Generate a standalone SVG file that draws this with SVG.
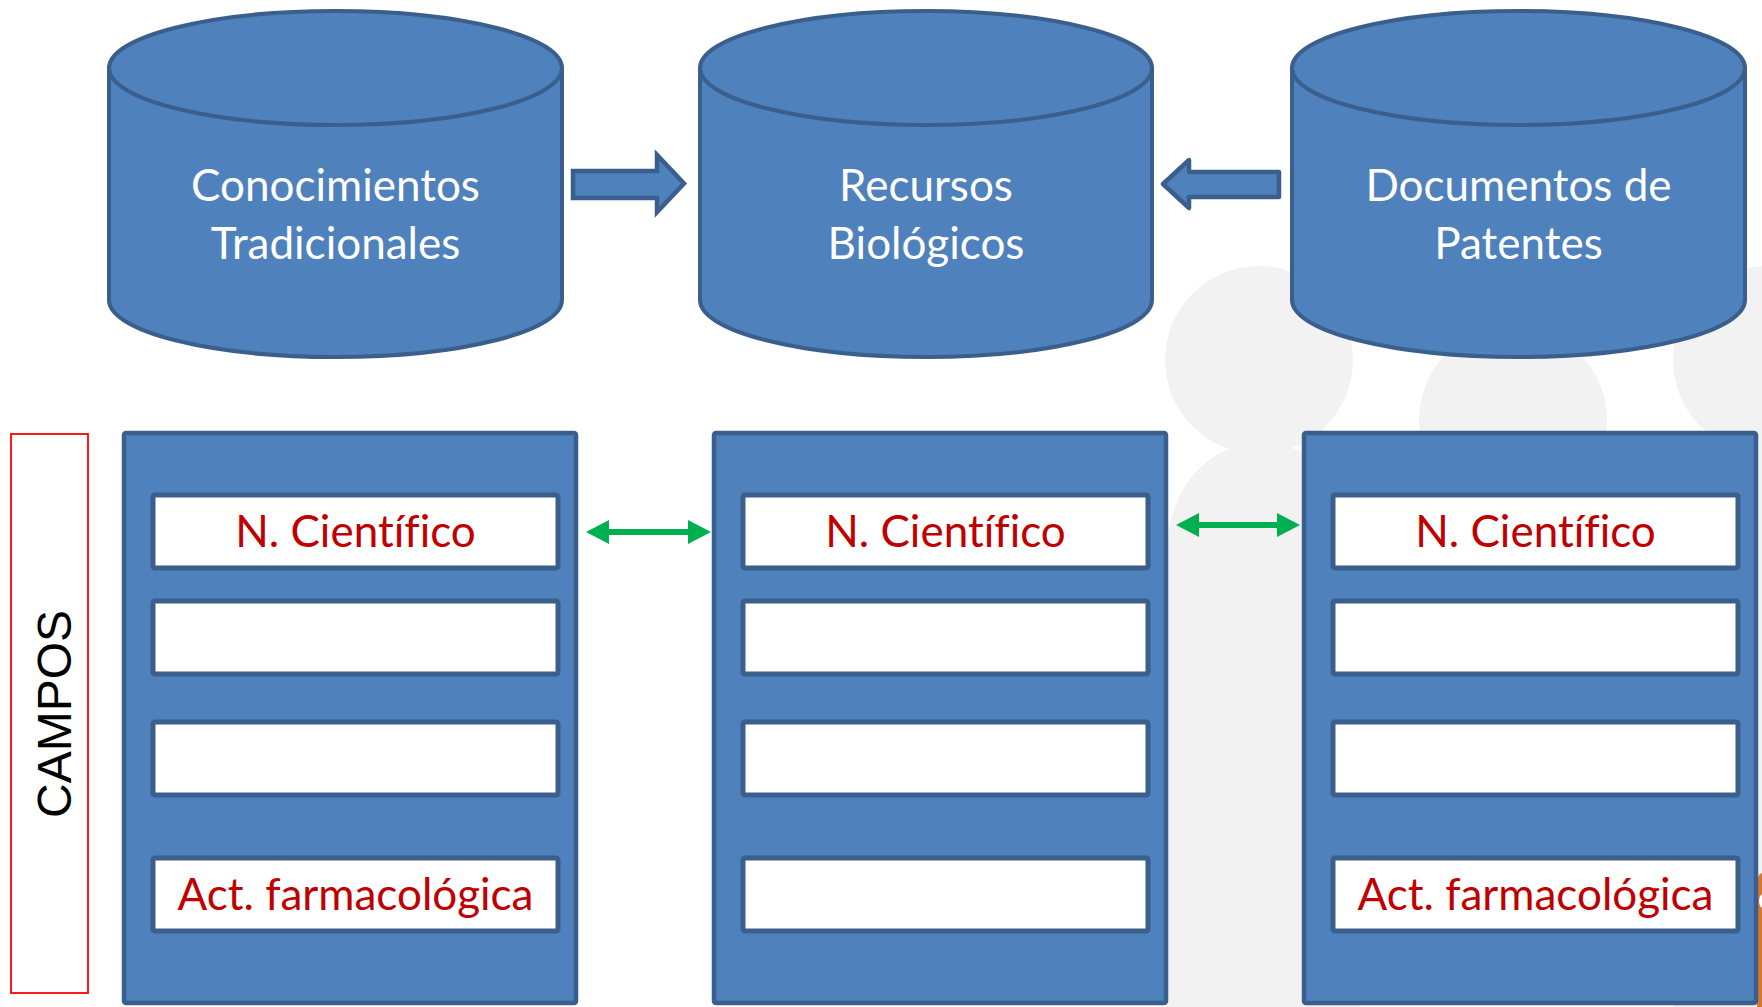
<svg xmlns="http://www.w3.org/2000/svg" width="1762" height="1007" viewBox="0 0 1762 1007">
<style>
.bg{fill:#F2F2F2}
.cyl{fill:#4F81BD;stroke:#3A5F8C;stroke-width:4}
.tbl{fill:#4F81BD;stroke:#3A5F8C;stroke-width:4.5}
.fld{fill:#FFFFFF;stroke:#3A5F8C;stroke-width:5}
.blk{fill:#4F81BD;stroke:#3A5F8C;stroke-width:4.5}
.grn{fill:#00B050}
.wt{font-family:Lato,"Open Sans",sans-serif;font-size:44px;fill:#FFFFFF;text-anchor:middle;font-variant-ligatures:none}
.rt{font-family:Lato,"Open Sans",sans-serif;font-size:44px;fill:#C00000;text-anchor:middle;font-variant-ligatures:none}
</style>
<rect width="1762" height="1007" fill="#FFFFFF"/>
<g id="background">
<circle class="bg" cx="1259" cy="360" r="94"/>
<path class="bg" d="M1166,1007 L1166,560 C1166,490 1205,445 1262,442 C1320,445 1360,490 1360,560 L1360,1007 Z"/>
<circle class="bg" cx="1513" cy="420" r="94"/>
<circle class="bg" cx="1767" cy="360" r="94"/>
<rect class="bg" x="1673" y="440" width="100" height="567"/>
<path d="M1757,1007 L1757,884 Q1757,872 1766,872 L1766,1007 Z" fill="#D9762F"/>
<ellipse cx="1763" cy="901" rx="4" ry="7" fill="#FFFFFF"/>
</g>
<g id="cyl-conocimientos">
<path class="cyl" d="M109,68 L109,300 A226.5,57 0 0 0 562,300 L562,68 Z"/>
<ellipse class="cyl" cx="335.5" cy="68" rx="226.5" ry="57"/>
<text class="wt" x="335.5" y="201">Conocimientos</text>
<text class="wt" x="335.5" y="259">Tradicionales</text>
</g>
<g id="cyl-recursos">
<path class="cyl" d="M700,68 L700,300 A226,57 0 0 0 1152,300 L1152,68 Z"/>
<ellipse class="cyl" cx="926" cy="68" rx="226" ry="57"/>
<text class="wt" x="926" y="201">Recursos</text>
<text class="wt" x="926" y="259">Biológicos</text>
</g>
<g id="cyl-documentos">
<path class="cyl" d="M1292,68 L1292,300 A226.5,57 0 0 0 1745,300 L1745,68 Z"/>
<ellipse class="cyl" cx="1518.5" cy="68" rx="226.5" ry="57"/>
<text class="wt" x="1518.5" y="201">Documentos de</text>
<text class="wt" x="1518.5" y="259">Patentes</text>
</g>
<g id="campos">
<rect x="11" y="434" width="77" height="559" fill="#FFFFFF" stroke="#FF0000" stroke-width="1.8"/>
<text x="0" y="0" transform="translate(71,714) rotate(-90)" font-family="'Liberation Sans',Arial,sans-serif" font-size="48" fill="#000000" text-anchor="middle">CAMPOS</text>
</g>
<g id="tabla-conocimientos">
<rect class="tbl" x="124" y="433" width="452" height="570" rx="2"/>
<rect class="fld" x="153" y="495" width="405" height="73" rx="2"/>
<rect class="fld" x="153" y="601" width="405" height="73" rx="2"/>
<rect class="fld" x="153" y="722" width="405" height="73" rx="2"/>
<rect class="fld" x="153" y="858" width="405" height="73" rx="2"/>
<text class="rt" x="355.5" y="547">N. Científico</text>
<text class="rt" x="355.5" y="910">Act. farmacológica</text>
</g>
<g id="tabla-recursos">
<rect class="tbl" x="714" y="433" width="452" height="570" rx="2"/>
<rect class="fld" x="743" y="495" width="405" height="73" rx="2"/>
<rect class="fld" x="743" y="601" width="405" height="73" rx="2"/>
<rect class="fld" x="743" y="722" width="405" height="73" rx="2"/>
<rect class="fld" x="743" y="858" width="405" height="73" rx="2"/>
<text class="rt" x="945.5" y="547">N. Científico</text>
</g>
<g id="tabla-documentos">
<rect class="tbl" x="1304" y="433" width="452" height="570" rx="2"/>
<rect class="fld" x="1333" y="495" width="405" height="73" rx="2"/>
<rect class="fld" x="1333" y="601" width="405" height="73" rx="2"/>
<rect class="fld" x="1333" y="722" width="405" height="73" rx="2"/>
<rect class="fld" x="1333" y="858" width="405" height="73" rx="2"/>
<text class="rt" x="1535.5" y="547">N. Científico</text>
<text class="rt" x="1535.5" y="910">Act. farmacológica</text>
</g>
<g id="connectors">
<polygon class="blk" points="573,171 657,171 657,155 684,183.5 657,212 657,198 573,198"/>
<polygon class="blk" stroke-linejoin="round" points="1279,172 1189,172 1189,160 1163,184 1189,208 1189,197 1279,197"/>
<polygon class="grn" points="586,532 609,520 609,529 688,529 688,520 711,532 688,544 688,535 609,535 609,544"/>
<polygon class="grn" points="1176,525 1199,513 1199,522 1277,522 1277,513 1300,525 1277,537 1277,528 1199,528 1199,537"/>
</g>
</svg>
